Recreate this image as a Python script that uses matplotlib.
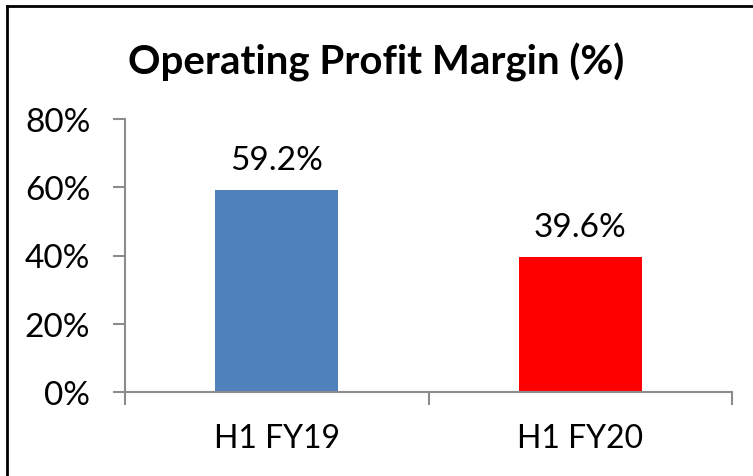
"""
Operating Profit Margin bar chart
"""
import matplotlib
matplotlib.use('Agg')
import matplotlib.pyplot as plt
from matplotlib.lines import Line2D
from matplotlib.ticker import FuncFormatter

# 数据
categories = ['H1 FY19', 'H1 FY20']
margins = [59.2, 39.6]
bar_colors = ['#4F81BD', '#FF0000']
y_ticks = [0, 20, 40, 60, 80]

plt.rcParams['font.family'] = ['Lato', 'DejaVu Sans']

fig = plt.figure(figsize=(7.53, 4.77), dpi=100)
ax = fig.add_axes([125 / 753, 1 - 393 / 477, 607 / 753, 273 / 477])

x = range(len(categories))
bars = ax.bar(x, margins, width=0.405, color=bar_colors)

for bar, val in zip(bars, margins):
    ax.annotate(f'{val:.1f}%', (bar.get_x() + bar.get_width() / 2, val),
                xytext=(0, 11), textcoords='offset points',
                ha='center', va='bottom', fontsize=24, color='black')

ax.set_xlim(-0.5, 1.5)
ax.set_ylim(0, 80)
ax.set_yticks(y_ticks)
ax.yaxis.set_major_formatter(FuncFormatter(lambda v, _: f'{int(v)}%'))
ax.set_xticks([-0.5, 0.5, 1.5], minor=False)
ax.set_xticklabels(['', '', ''])
ax.set_xticks(list(x), minor=True)
ax.set_xticklabels(categories, minor=True)

axis_color = '#8C8C8C'
for side in ['top', 'right']:
    ax.spines[side].set_visible(False)
for side in ['left', 'bottom']:
    ax.spines[side].set_color(axis_color)
    ax.spines[side].set_linewidth(1.5)

ax.tick_params(axis='y', which='major', direction='out', length=9, width=1.5,
               color=axis_color, labelsize=24, pad=16)
ax.tick_params(axis='x', which='major', direction='out', length=9, width=1.5,
               color=axis_color)
ax.tick_params(axis='x', which='minor', length=0, labelsize=23, pad=22)

fig.text(0.5, 1 - 62 / 477, 'Operating Profit Margin (%)', ha='center', va='center',
         fontsize=29, fontweight='bold')

# 外框（上边与左边）
fig.add_artist(Line2D([7 / 753, 1], [1 - 7 / 477, 1 - 7 / 477],
                      transform=fig.transFigure, color='black', linewidth=2))
fig.add_artist(Line2D([7 / 753, 7 / 753], [0, 1 - 7 / 477],
                      transform=fig.transFigure, color='black', linewidth=2))

plt.savefig('out.png', dpi=100)
plt.close()
